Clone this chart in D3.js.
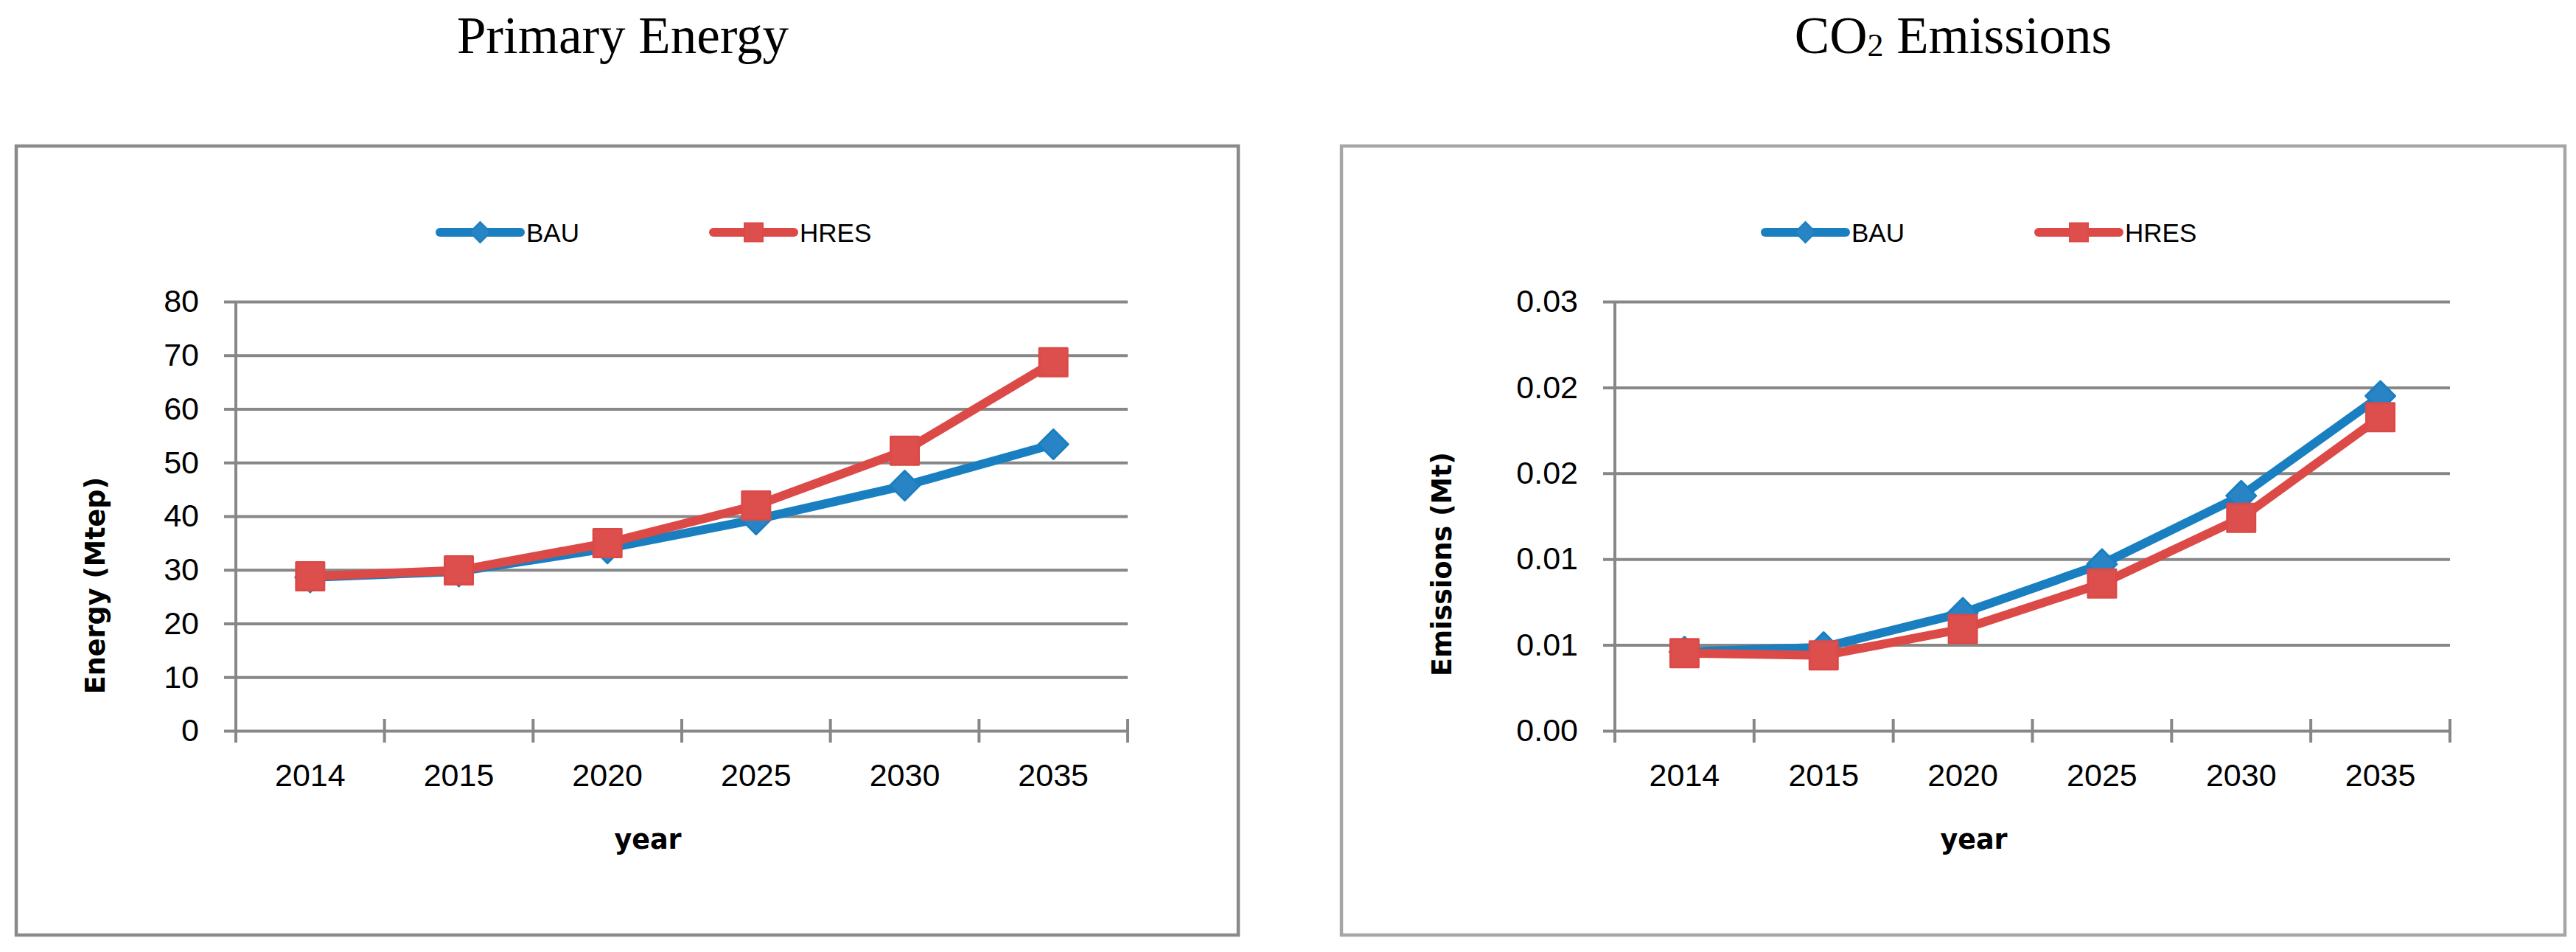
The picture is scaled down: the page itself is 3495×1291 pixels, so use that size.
<!DOCTYPE html>
<html>
<head>
<meta charset="utf-8">
<script src="https://cdn.jsdelivr.net/npm/d3@7"></script>
<style>
  body { margin: 0; background: #fff; }
  text { fill: #000; }
</style>
</head>
<body>
<div id="chart"></div>
<script>
// Data
const years = ["2014", "2015", "2020", "2025", "2030", "2035"];
const seriesNames = ["BAU", "HRES"];

const energyBAU = [28.6, 29.7, 34.0, 39.4, 45.7, 53.4];
const energyHRES = [28.8, 29.9, 35.0, 42.0, 52.2, 68.7];
const energyTicks = [0, 10, 20, 30, 40, 50, 60, 70, 80];
const energyTickLabels = ["0", "10", "20", "30", "40", "50", "60", "70", "80"];

const co2BAU = [0.0046, 0.00487, 0.00687, 0.00971, 0.01369, 0.0195];
const co2HRES = [0.00452, 0.00439, 0.00593, 0.00858, 0.0124, 0.01827];
const co2Ticks = [0, 0.005, 0.01, 0.015, 0.02, 0.025];
const co2TickLabels = ["0.00", "0.01", "0.01", "0.02", "0.02", "0.03"];

const W = 3495, H = 1291;
const blue = "#1a7fc1", blueFill = "#2884c4";
const red = "#dc4a48", redFill = "#dd4f4d";
const grid = "#878787";

const svg = d3.select("#chart")
    .append("svg")
    .attr("width", W)
    .attr("height", H)
    .style("background", "#fff");

const diamond = r => `M0,${-r}L${r},0L0,${r}L${-r},0Z`;
const square = r => `M${-r},${-r}H${r}V${r}H${-r}Z`;

function drawPanel(p) {
    const g = svg.append("g");
    const [fx, fy, fw, fh] = p.frame;
    const fcx = fx + fw / 2;

    // chart title (above the frame)
    const title = g.append("text")
        .attr("x", p.titleX)
        .attr("y", 72)
        .attr("text-anchor", "middle")
        .style("font-family", "'Liberation Serif', 'Times New Roman', serif")
        .style("font-size", "71px");
    p.title.forEach(part => {
        const t = title.append("tspan").text(part.text);
        if (part.sub) t.style("font-size", "44px").attr("dy", 4);
        else if (part.after) t.attr("dy", -4);
    });

    // frame
    g.append("rect")
        .attr("x", fx).attr("y", fy)
        .attr("width", fw).attr("height", fh)
        .attr("fill", "none")
        .attr("stroke", p.frameColor)
        .attr("stroke-width", 4.5);

    // scales
    const x = d3.scaleBand()
        .domain(years)
        .range([p.plot.x0, p.plot.x1]);

    const y = d3.scaleLinear()
        .domain([0, p.yMax])
        .range([p.plot.y1, p.plot.y0]);

    const pw = p.plot.x1 - p.plot.x0;

    // y axis with gridlines
    const yAxis = g.append("g")
        .attr("transform", `translate(${p.plot.x0},0)`)
        .call(d3.axisLeft(y)
            .tickValues(p.ticks)
            .tickFormat((d, i) => p.tickLabels[i])
            .tickSizeInner(-pw)
            .tickSizeOuter(0)
            .tickPadding(50));
    yAxis.select(".domain").remove();
    yAxis.selectAll(".tick line")
        .attr("x1", -16)
        .attr("x2", pw)
        .attr("stroke", grid)
        .attr("stroke-width", 4);
    yAxis.selectAll(".tick text")
        .style("font-family", "'Liberation Sans', Arial, sans-serif")
        .style("font-size", "43px")
        .attr("fill", "#000");

    // vertical axis line
    g.append("line")
        .attr("x1", p.plot.x0).attr("x2", p.plot.x0)
        .attr("y1", y(p.yMax)).attr("y2", y(0) + 16)
        .attr("stroke", grid)
        .attr("stroke-width", 4);

    // x axis labels
    const xAxis = g.append("g")
        .attr("transform", `translate(0,${y(0)})`)
        .call(d3.axisBottom(x).tickSize(0).tickPadding(44));
    xAxis.select(".domain").remove();
    xAxis.selectAll(".tick text")
        .style("font-family", "'Liberation Sans', Arial, sans-serif")
        .style("font-size", "43px")
        .attr("fill", "#000");

    // x tick marks on category boundaries
    const bounds = years.map(d => x(d)).concat([x(years[years.length - 1]) + x.step()]);
    g.selectAll(".xtick")
        .data(bounds)
        .enter().append("line")
        .attr("x1", d => d).attr("x2", d => d)
        .attr("y1", y(0) - 16).attr("y2", y(0) + 16)
        .attr("stroke", grid)
        .attr("stroke-width", 4);

    // axis titles
    g.append("text")
        .attr("transform", `translate(${p.yTitle[0] + 13},${p.yTitle[1]}) rotate(-90)`)
        .attr("text-anchor", "middle")
        .style("font-family", "'DejaVu Sans', Verdana, sans-serif")
        .style("font-weight", "bold")
        .style("font-size", "36.5px")
        .text(p.yLabel);

    g.append("text")
        .attr("x", fcx + 28)
        .attr("y", 1151)
        .attr("text-anchor", "middle")
        .style("font-family", "'DejaVu Sans', Verdana, sans-serif")
        .style("font-weight", "bold")
        .style("font-size", "36.5px")
        .text("year");

    // series
    const line = d3.line()
        .x((d, i) => x(years[i]) + x.bandwidth() / 2)
        .y(d => y(d));

    const series = [
        { name: seriesNames[0], values: p.bau, color: blue, fill: blueFill, shape: diamond(20), legendShape: diamond(14) },
        { name: seriesNames[1], values: p.hres, color: red, fill: redFill, shape: square(19), legendShape: square(12.5) }
    ];

    series.forEach(s => {
        g.append("path")
            .datum(s.values)
            .attr("fill", "none")
            .attr("stroke", s.color)
            .attr("stroke-width", 12)
            .attr("stroke-linejoin", "round")
            .attr("stroke-linecap", "round")
            .attr("d", line);

        g.selectAll(null)
            .data(s.values)
            .enter().append("path")
            .attr("d", s.shape)
            .attr("transform", (d, i) => `translate(${x(years[i]) + x.bandwidth() / 2},${y(d)})`)
            .attr("fill", s.fill)
            .attr("stroke", s.color)
            .attr("stroke-width", 3)
            .attr("stroke-linejoin", "round");
    });

    // legend
    const legendY = 315;
    const legendPos = [575, 946];
    series.forEach((s, i) => {
        const lx = fx + legendPos[i];
        const lg = g.append("g").attr("transform", `translate(${lx},${legendY})`);
        lg.append("line")
            .attr("x1", 0).attr("x2", 109)
            .attr("stroke", s.color)
            .attr("stroke-width", 12)
            .attr("stroke-linecap", "round");
        lg.append("path")
            .attr("d", s.legendShape)
            .attr("transform", "translate(54.5,0)")
            .attr("fill", s.fill)
            .attr("stroke", s.color)
            .attr("stroke-width", 2);
        lg.append("text")
            .attr("x", 117)
            .attr("y", 13)
            .style("font-family", "'Liberation Sans', Arial, sans-serif")
            .style("font-size", "35px")
            .text(s.name);
    });
}

drawPanel({
    title: [{ text: "Primary Energy" }],
    titleX: 845,
    frame: [22, 198, 1658, 1070],
    frameColor: "#8a8a8a",
    plot: { x0: 320, x1: 1530, y0: 409, y1: 991 },
    yMax: 80,
    ticks: energyTicks,
    tickLabels: energyTickLabels,
    yLabel: "Energy (Mtep)",
    yTitle: [129, 794],
    bau: energyBAU,
    hres: energyHRES
});

drawPanel({
    title: [{ text: "CO" }, { text: "2", sub: true }, { text: " Emissions", after: true }],
    titleX: 2650,
    frame: [1820, 198, 1660, 1070],
    frameColor: "#a6a6a6",
    plot: { x0: 2191, x1: 3324, y0: 409, y1: 991 },
    yMax: 0.025,
    ticks: co2Ticks,
    tickLabels: co2TickLabels,
    yLabel: "Emissions (Mt)",
    yTitle: [1956, 765],
    bau: co2BAU,
    hres: co2HRES
});
</script>
</body>
</html>
